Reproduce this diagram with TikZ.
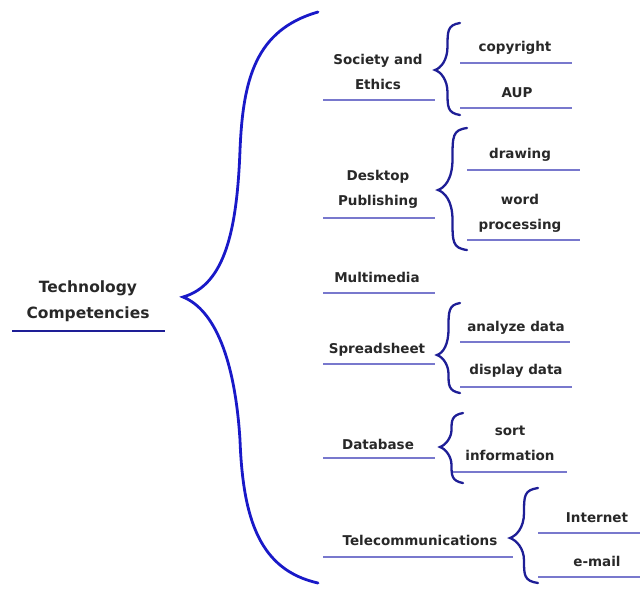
\documentclass[tikz,border=0pt]{standalone}
\usepackage{fontspec}
\setmainfont{DejaVu Sans}
\definecolor{bigblue}{RGB}{25,25,200}
\definecolor{navy}{RGB}{30,30,150}
\definecolor{ulblue}{RGB}{120,120,205}
\definecolor{txt}{RGB}{40,40,40}
\newcommand{\cbrace}[5]{% xtip, ytip, ytop, ybot, xend
  \draw[smallbrace] (#5,#3) .. controls ({(#1+#5)/2},{#3+2}) and ({(#1+#5)/2},{#3+8}) .. ({(#1+#5)/2},{(#3+#2)/2})
    .. controls ({(#1+#5)/2},{#2-10}) and ({#1+6},{#2-2}) .. (#1,#2)
    .. controls ({#1+6},{#2+2}) and ({(#1+#5)/2},{#2+10}) .. ({(#1+#5)/2},{(#2+#4)/2})
    .. controls ({(#1+#5)/2},{#4-8}) and ({(#1+#5)/2},{#4-2}) .. (#5,#4);}
\begin{document}
\begin{tikzpicture}[x=1pt,y=-1pt,
  lbl/.style={font=\fontsize{13.5}{25}\selectfont\bfseries, text=txt, align=center, inner sep=0pt},
  rootlbl/.style={lbl, font=\fontsize{15.5}{26}\selectfont\bfseries},
  uline/.style={draw=ulblue, line width=1.4pt},
  rootline/.style={draw=navy, line width=2.5pt},
  smallbrace/.style={draw=navy, line width=2.3pt, line cap=round},
  bigbrace/.style={draw=bigblue, line width=2.8pt, line cap=round}]
\useasboundingbox (0,0) rectangle (640,590);
% root
\node[rootlbl] (root) at (88,301) {Technology\\Competencies};
\draw[rootline] (12,331) -- (165,331);
% big brace
\draw[bigbrace] (318,12) .. controls (255,30) and (243,80) .. (240,150)
  .. controls (237,230) and (225,285) .. (183,297)
  .. controls (215,310) and (235,360) .. (240,440)
  .. controls (243,520) and (260,570) .. (318,583);
% Society and Ethics
\node[lbl] (soc) at (378,72) {Society and\\Ethics};
\draw[uline] (323,100) -- (435,100);
\cbrace{435}{70}{23}{115}{460}
\node[lbl] (copy) at (515,48) {copyright};
\draw[uline] (460,63) -- (572,63);
\node[lbl] (aup) at (517,93) {AUP};
\draw[uline] (460,108) -- (572,108);
% Desktop Publishing
\node[lbl] (dtp) at (378,189) {Desktop\\Publishing};
\draw[uline] (323,218) -- (435,218);
\cbrace{438}{190}{128}{250}{467}
\node[lbl] (draw) at (520,155) {drawing};
\draw[uline] (467,170) -- (580,170);
\node[lbl] (word) at (520,213) {word\\processing};
\draw[uline] (467,240) -- (580,240);
% Multimedia
\node[lbl] (mm) at (377,277) {Multimedia};
\draw[uline] (323,293) -- (435,293);
% Spreadsheet
\node[lbl] (ss) at (377,350) {Spreadsheet};
\draw[uline] (323,364) -- (435,364);
\cbrace{437}{355}{303}{393}{460}
\node[lbl] (ana) at (516,328) {analyze data};
\draw[uline] (460,342) -- (570,342);
\node[lbl] (disp) at (516,371) {display data};
\draw[uline] (460,387) -- (572,387);
% Database
\node[lbl] (db) at (378,444) {Database};
\draw[uline] (323,458) -- (435,458);
\cbrace{440}{447}{413}{483}{463}
\node[lbl] (sort) at (510,443) {sort\\information};
\draw[uline] (453,472) -- (567,472);
% Telecommunications
\node[lbl] (tel) at (420,540) {Telecommunications};
\draw[uline] (323,557) -- (513,557);
\cbrace{510}{538}{488}{583}{538}
\node[lbl] (inet) at (597,518) {Internet};
\draw[uline] (538,533) -- (640,533);
\node[lbl] (mail) at (597,561) {e-mail};
\draw[uline] (538,577) -- (640,577);
\end{tikzpicture}
\end{document}
